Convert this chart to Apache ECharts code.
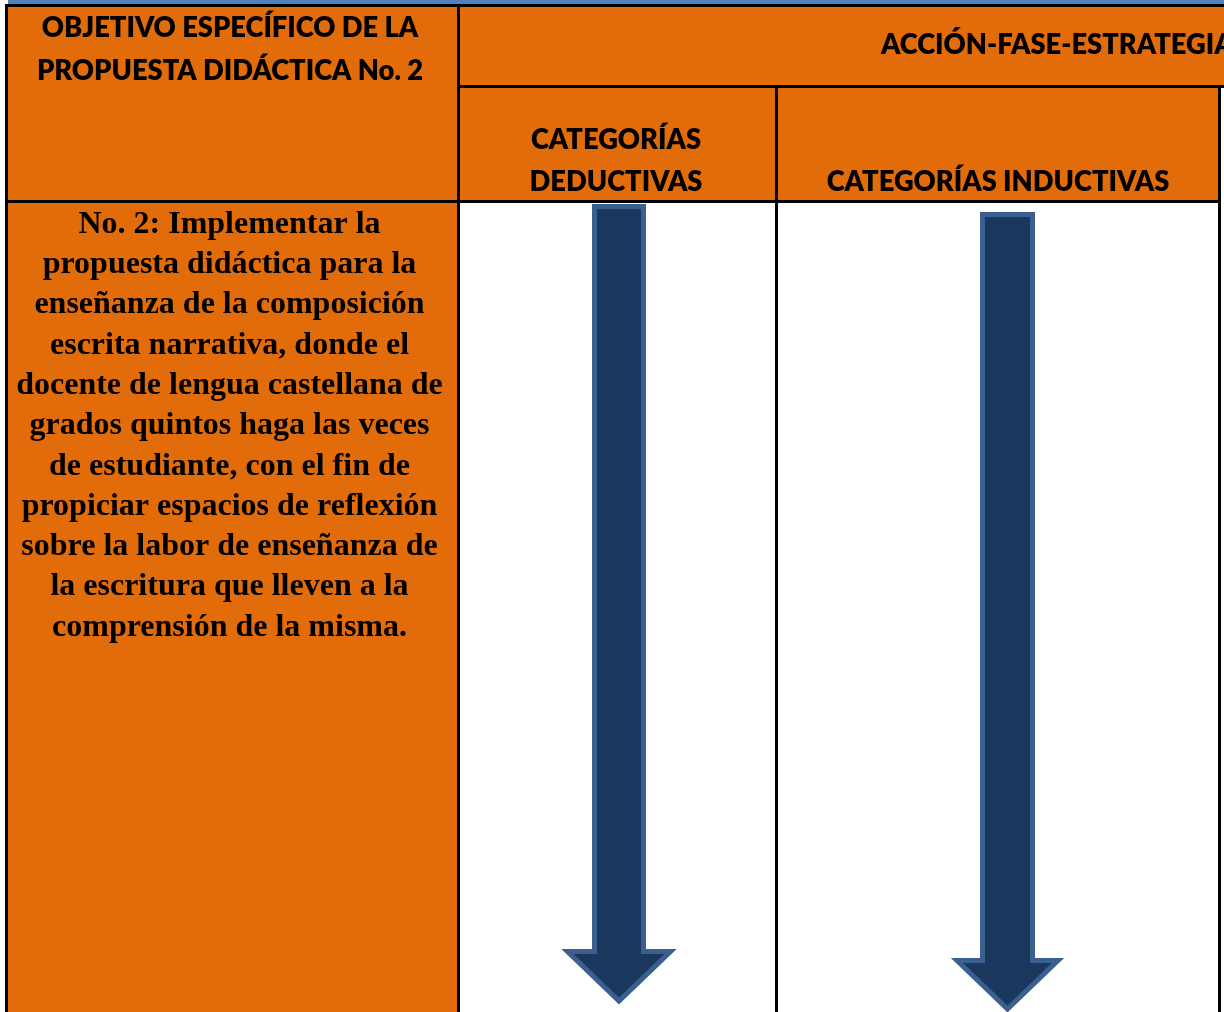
<!DOCTYPE html>
<html>
<head>
<meta charset="utf-8">
<style>
  html, body { margin: 0; padding: 0; background: #ffffff; }
  #chart { width: 1224px; height: 1012px; }
</style>
<script src="https://cdn.jsdelivr.net/npm/echarts@6/dist/echarts.min.js"></script>
</head>
<body>
<div id="chart"></div>
<script>
// ---------- DATA (text content of the table) ----------
const objectiveHeader = ['OBJETIVO ESPECÍFICO DE LA', 'PROPUESTA DIDÁCTICA No. 2'];
const actionHeader = ['ACCIÓN-FASE-ESTRATEGIA'];
const deductiveHeader = ['CATEGORÍAS', 'DEDUCTIVAS'];
const inductiveHeader = ['CATEGORÍAS INDUCTIVAS'];
const objectiveLines = [
  'No. 2: Implementar la',
  'propuesta didáctica para la',
  'enseñanza de la composición',
  'escrita narrativa, donde el',
  'docente de lengua castellana de',
  'grados quintos haga las veces',
  'de estudiante, con el fin de',
  'propiciar espacios de reflexión',
  'sobre la labor de enseñanza de',
  'la escritura que lleven a la',
  'comprensión de la misma.'
];
const flowColumns = ['CATEGORÍAS DEDUCTIVAS', 'CATEGORÍAS INDUCTIVAS'];

// ---------- LAYOUT (geometry, in page units of the hidden axes) ----------
const W = 1224, H = 1012;
const L = {
  blueStrip: [8, 0, W, 4],
  orange: [
    [8, 7, 457, H],
    [460, 7, W, 85],
    [460, 88, 775, 200],
    [778, 88, 1218, 200]
  ],
  borders: [
    [5, 4, W, 7],
    [5, 4, 8, H],
    [457, 4, 460, H],
    [460, 85, W, 88],
    [5, 200, 1221, 203],
    [775, 88, 778, H],
    [1218, 88, 1221, H]
  ],
  arrows: [
    { cx: 619, top: 206.5, hw: 24.5, headY: 951.5, headHw: 51.5, tip: 1001 },
    { cx: 1007.5, top: 214.5, hw: 25, headY: 960.5, headHw: 50.5, tip: 1009 }
  ]
};
const COLORS = {
  orange: '#e36c0a', blue: '#4f81bd', border: '#000000',
  arrowFill: '#1a385d', arrowStroke: '#3b5f8e', text: '#000000'
};
const headFont = '800 27.3px Lato';
const bodyFont = 'bold 32px "Liberation Serif"';

// text items built from data arrays
const texts = [];
objectiveHeader.forEach((t, i) => texts.push({ t, x: 230, y: 28.5 + i * 42.5, font: headFont, align: 'center' }));
actionHeader.forEach((t) => texts.push({ t, x: 881, y: 45.5, font: headFont, align: 'left' }));
deductiveHeader.forEach((t, i) => texts.push({ t, x: 616, y: 140.5 + i * 41.5, font: headFont, align: 'center' }));
inductiveHeader.forEach((t) => texts.push({ t, x: 998, y: 182, font: headFont, align: 'center' }));
objectiveLines.forEach((t, i) => texts.push({ t, x: 229.5, y: 224.5 + i * 40.3, font: bodyFont, align: 'center' }));

const rectData = [];
rectData.push({ value: L.blueStrip, color: COLORS.blue });
L.orange.forEach(r => rectData.push({ value: r, color: COLORS.orange }));
L.borders.forEach(r => rectData.push({ value: r, color: COLORS.border }));

const chart = echarts.init(document.getElementById('chart'), null, { renderer: 'canvas' });

function rectItem(params, api) {
  const p0 = api.coord([api.value(0), api.value(1)]);
  const p1 = api.coord([api.value(2), api.value(3)]);
  return {
    type: 'rect',
    shape: { x: p0[0], y: p0[1], width: p1[0] - p0[0], height: p1[1] - p0[1] },
    style: { fill: rectData[params.dataIndex].color },
    silent: true
  };
}

function arrowItem(params, api) {
  const a = L.arrows[params.dataIndex];
  const pts = [
    [a.cx - a.hw, a.top], [a.cx + a.hw, a.top], [a.cx + a.hw, a.headY],
    [a.cx + a.headHw, a.headY], [a.cx, a.tip], [a.cx - a.headHw, a.headY],
    [a.cx - a.hw, a.headY]
  ].map(p => api.coord(p));
  return {
    type: 'polygon',
    shape: { points: pts },
    style: { fill: COLORS.arrowFill, stroke: COLORS.arrowStroke, lineWidth: 5, lineJoin: 'miter', miterLimit: 4 },
    silent: true
  };
}

function textItem(params, api) {
  const it = texts[params.dataIndex];
  const p = api.coord([it.x, it.y]);
  return {
    type: 'text',
    x: p[0], y: p[1],
    style: { text: it.t, font: it.font, fill: COLORS.text, align: it.align, verticalAlign: 'middle' },
    silent: true
  };
}

chart.setOption({
  animation: false,
  backgroundColor: '#ffffff',
  grid: { left: 0, right: 0, top: 0, bottom: 0 },
  xAxis: { type: 'value', min: 0, max: W, show: false },
  yAxis: { type: 'value', min: 0, max: H, inverse: true, show: false },
  series: [
    { type: 'custom', name: 'cells', renderItem: rectItem, data: rectData, clip: true, z: 1 },
    { type: 'custom', name: 'flow', renderItem: arrowItem,
      data: flowColumns.map((n, i) => ({ name: n, value: [L.arrows[i].cx, L.arrows[i].top] })), clip: true, z: 2 },
    { type: 'custom', name: 'labels', renderItem: textItem,
      data: texts.map((it, i) => ({ name: it.t, value: [it.x, it.y] })), clip: true, z: 3 }
  ]
});
</script>
</body>
</html>
